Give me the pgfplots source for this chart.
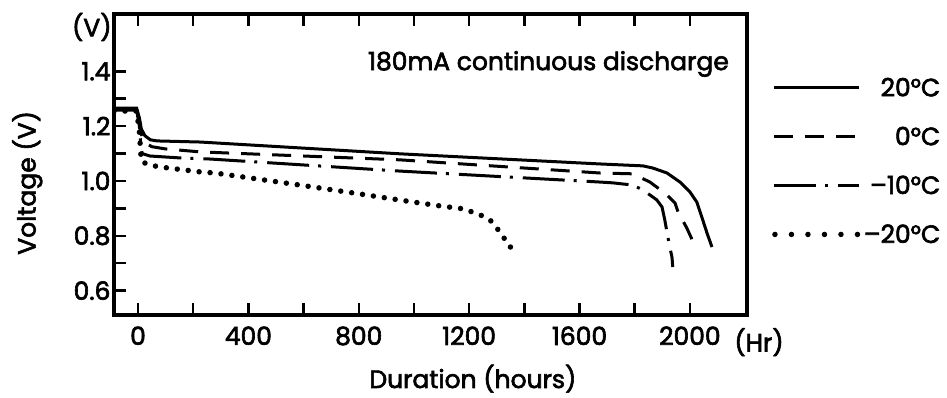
\documentclass[border=0pt]{standalone}
\usepackage{pgfplots}
\pgfplotsset{compat=1.18}
\usepackage{fontspec}
\setmainfont{Poppins}[FakeBold=2.5]
\newcommand{\bigf}{\fontsize{25}{28}\selectfont}
\begin{document}
\begin{tikzpicture}
\begin{axis}[
  at={(114pt,82pt)}, anchor=south west,
  scale only axis, width=633pt, height=301pt,
  xmin=-87, xmax=2207, ymin=0.511, ymax=1.609,
  axis line style={line width=3.5pt},
  tick align=inside, ytick pos=left, xtick pos=both, xticklabel pos=bottom,
  xtick={0,400,800,1200,1600,2000}, xticklabels={0,400,800,1200,1600,2000},
  minor xtick={200,600,1000,1400,1800},
  ytick={0.6,0.8,1.0,1.2,1.4}, yticklabels={0.6,0.8,1.0,1.2,1.4},
  minor ytick={0.7,0.9,1.1,1.3},
  major tick length=12pt, minor tick length=12pt,
  major tick style={line width=2.5pt, black}, minor tick style={line width=2.5pt, black},
  tick label style={font=\bigf},
  xticklabel style={yshift=-8pt},
  xlabel={Duration (hours)}, ylabel={Voltage (V)},
  label style={font=\bigf},
  xlabel style={at={(axis description cs:0.567,-0.2425)}, anchor=base},
  ylabel style={at={(axis description cs:-0.137,0.439)}, anchor=center},
  legend style={at={(axis description cs:1.0395,0.795)}, anchor=north west, draw=none, fill=none,
    font=\bigf, inner sep=0pt, row sep=25pt, cells={anchor=east}},
  legend image code/.code={\draw[#1] (0pt,0pt) -- (85pt,0pt);},
  clip mode=individual,
]
\addplot[black, line width=3pt] coordinates {
(-87,1.266) (-5,1.266) (5,1.23) (12,1.19) (25,1.165) (45,1.15) (69,1.146)
(225,1.142) (949,1.099) (1674,1.062) (1830,1.055) (1866,1.047) (1917,1.029)
(1964,0.996) (2000,0.960) (2025,0.923) (2043,0.869) (2062,0.810) (2080,0.759)};
\addlegendentry{20°C}
\addplot[black, line width=3pt, dash pattern=on 19pt off 12pt] coordinates {
(-87,1.262) (-5,1.262) (5,1.22) (12,1.17) (25,1.14) (50,1.125) (98,1.117)
(225,1.106) (949,1.077) (1674,1.029) (1793,1.026) (1855,0.996) (1909,0.956)
(1946,0.920) (1957,0.887) (1989,0.828) (2025,0.748)};
\addlegendentry{0°C}
\addplot[black, line width=3pt, dash pattern=on 42pt off 9pt on 3pt off 10pt] coordinates {
(-87,1.258) (-5,1.258) (5,1.20) (10,1.13) (15,1.10) (43,1.091) (152,1.084)
(261,1.080) (949,1.036) (1674,0.996) (1721,0.993) (1793,0.985) (1830,0.967)
(1855,0.949) (1880,0.931) (1899,0.905) (1909,0.858) (1920,0.796) (1928,0.755)
(1935,0.723) (1938,0.686)};
\addlegendentry{–10°C}
\addplot[black, line width=5.5pt, line cap=round, dash pattern=on 0pt off 11pt,
  legend image code/.code={\draw[black, line width=5.5pt, line cap=round, dash pattern=on 0pt off 16.5pt] (1pt,0pt) -- (85pt,0pt);}] coordinates {
(-87,1.255) (-5,1.255) (5,1.18) (10,1.10) (14,1.07) (43,1.058) (80,1.051)
(225,1.033) (279,1.029) (587,0.985) (801,0.953) (971,0.927) (1094,0.909) (1181,0.898)
(1250,0.872) (1279,0.854) (1301,0.828) (1319,0.799) (1344,0.774) (1355,0.745)};
\addlegendentry{–20°C}
\node[font=\bigf, anchor=center] at (axis description cs:-0.035,0.957) {(V)};
\node[font=\bigf, anchor=center] at (axis description cs:1.019,-0.090) {(Hr)};
\node[font=\bigf, anchor=west, inner sep=0pt] at (axis description cs:0.401,0.834) {180mA continuous discharge};
\end{axis}
\pgfresetboundingbox
\useasboundingbox (0,0) rectangle (947pt,397pt);
\end{tikzpicture}
\end{document}
